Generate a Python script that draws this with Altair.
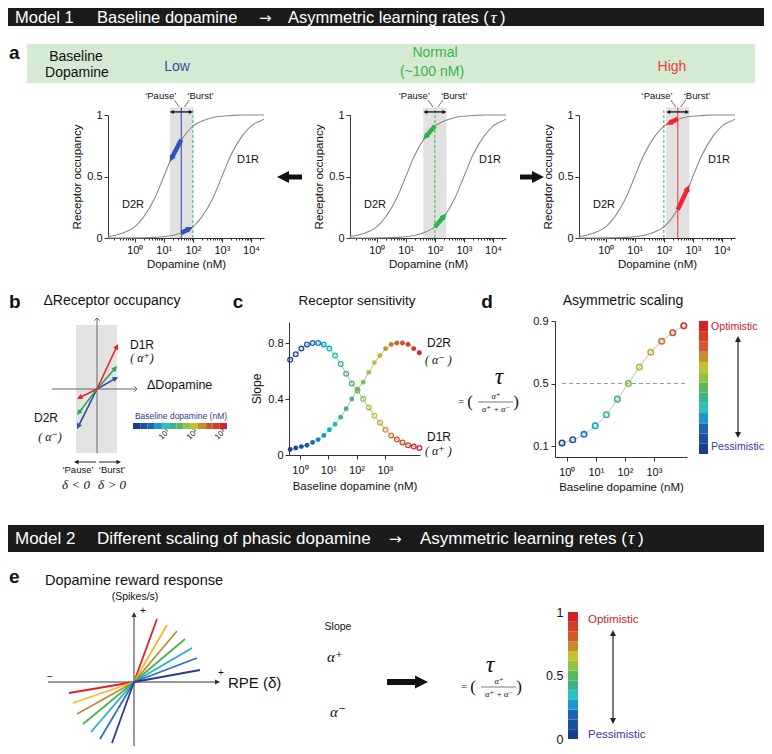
import math
import altair as alt
import pandas as pd

W, H = 756, 738
M = 8


def cx(v):
    return v - M


def cy(v):
    return v - M


SANS = "Liberation Sans, Arial, Helvetica, sans-serif"
ARROWFONT = "DejaVu Sans, Liberation Sans, sans-serif"
SERIF = "Liberation Serif, DejaVu Serif, Times New Roman, serif"
HEAD = "M0,0L-0.5,1L0.5,1Z"
CHEV_UP = "M-1,1L0,0L1,1"
CHEV_RIGHT = "M-1,-1L0,0L-1,1"
JET13 = ["#1c3d8f", "#1f4fa0", "#1f64b0", "#1b96cf", "#2bbfc0", "#3cb487", "#5ab75c",
         "#8dc443", "#c4c22e", "#c98b2d", "#cf5c28", "#d23f26", "#d62027"]
E7 = ["#e41e26", "#f8b62e", "#b68e3a", "#4db04f", "#1fb4c4", "#2874c4", "#2b3b93"]

# ---------------- data ----------------
dopamine_nM = [0.12, 0.2, 0.5, 1, 2, 5, 10, 20, 50, 100, 200, 500, 1000, 2000, 5000, 10000, 20000, 28000]
d2r_occupancy = [0.012, 0.02, 0.05, 0.09, 0.17, 0.33, 0.50, 0.67, 0.83, 0.91, 0.95, 0.98, 0.99, 0.995, 1.0, 1.0, 1.0, 1.0]
d1r_occupancy = [0.0, 0.0, 0.0, 0.001, 0.002, 0.005, 0.01, 0.02, 0.05, 0.09, 0.17, 0.33, 0.50, 0.67, 0.83, 0.91, 0.95, 0.966]

baseline_levels = ["Low", "Normal", "High"]
baseline_nM = [40, 100, 300]
normal_nM = 100
band_low_nM = [16, 40, 120]
band_high_nM = [100, 250, 750]
d2r_arrow_from = [0.80, 0.91, 0.97]
d2r_arrow_to = [0.62, 0.80, 0.92]
d1r_arrow_from = [0.04, 0.09, 0.23]
d1r_arrow_to = [0.09, 0.20, 0.43]

b_burst_dx = [21, 20, 21]
b_burst_dy = [12, 23, 45]
b_pause_dx = [-20, -20, -20]
b_pause_dy = [-40, -26, -10]
colorbar_ticks_nM = [10, 100, 1000]

c_baseline_nM = [0.45, 0.71, 1.12, 1.77, 2.8, 4.4, 7.0, 11, 17.4, 27.5, 43, 68, 108, 171, 270,
                 427, 675, 1065, 1685, 2660, 4200, 6640, 10500, 16600]
c_open = [0.68, 0.72, 0.76, 0.79, 0.80, 0.80, 0.79, 0.76, 0.71, 0.65, 0.58, 0.51, 0.46, 0.40,
          0.34, 0.28, 0.23, 0.18, 0.14, 0.11, 0.09, 0.07, 0.06, 0.05]
c_filled = [0.04, 0.05, 0.06, 0.07, 0.09, 0.11, 0.14, 0.18, 0.22, 0.27, 0.33, 0.40, 0.47, 0.52,
            0.59, 0.66, 0.71, 0.76, 0.79, 0.80, 0.80, 0.79, 0.76, 0.73]

d_baseline_nM = [0.68, 1.6, 3.9, 9.5, 23, 55, 132, 316, 776, 1860, 4470, 10700]
d_tau = [0.12, 0.14, 0.175, 0.23, 0.30, 0.40, 0.50, 0.605, 0.70, 0.77, 0.825, 0.87]

e_plus_dx = [23, 33, 43, 51, 58, 63, 66]
e_plus_dy = [63, 57, 51, 43, 34, 24, 12]
e_minus_dx = [-65, -61, -57, -51, -43, -34, -22]
e_minus_dy = [-11, -21, -32, -42, -50, -57, -61]
tau_ticks = [0, 0.5, 1]

SUP = ("'10' + (datum.value < 5 ? '\u2070' : datum.value < 50 ? '\u00b9' : "
       "datum.value < 500 ? '\u00b2' : datum.value < 5000 ? '\u00b3' : '\u2074')")


class Panel:
    def __init__(self, xdom, xrng, ydom, yrng, xlog=False, ylog=False):
        self.xdom, self.ydom = list(xdom), list(ydom)
        self.xr = [cx(v) for v in xrng]
        self.yr = [cy(v) for v in yrng]
        self.xlog, self.ylog = xlog, ylog

    @staticmethod
    def _scale(dom, rng, log):
        if log:
            return alt.Scale(type="log", domain=dom, range=rng, nice=False)
        return alt.Scale(type="linear", domain=dom, range=rng, nice=False, zero=False)

    def X(self, f, axis=None):
        return alt.X(f, type="quantitative", scale=self._scale(self.xdom, self.xr, self.xlog), axis=axis)

    def Y(self, f, axis=None):
        return alt.Y(f, type="quantitative", scale=self._scale(self.ydom, self.yr, self.ylog), axis=axis)

    @staticmethod
    def _t(v, dom, log):
        if log:
            return (math.log10(v) - math.log10(dom[0])) / (math.log10(dom[1]) - math.log10(dom[0]))
        return (v - dom[0]) / (dom[1] - dom[0])

    @staticmethod
    def _inv(t, dom, log):
        if log:
            return 10 ** (math.log10(dom[0]) + t * (math.log10(dom[1]) - math.log10(dom[0])))
        return dom[0] + t * (dom[1] - dom[0])

    def px(self, x, y):
        return (self.xr[0] + self._t(x, self.xdom, self.xlog) * (self.xr[1] - self.xr[0]),
                self.yr[0] + self._t(y, self.ydom, self.ylog) * (self.yr[1] - self.yr[0]))

    def data(self, px, py):
        return (self._inv((px - self.xr[0]) / (self.xr[1] - self.xr[0]), self.xdom, self.xlog),
                self._inv((py - self.yr[0]) / (self.yr[1] - self.yr[0]), self.ydom, self.ylog))


def head_angle(dx, dy):
    return round((math.degrees(math.atan2(dx, -dy)) + 360.0) % 360.0, 2)


def one(**kw):
    return pd.DataFrame({k: [v] for k, v in kw.items()})


PX = lambda f: alt.X(f, type="quantitative", scale=None)
PY = lambda f: alt.Y(f, type="quantitative", scale=None)

layers = []
TEXTS = []


def txt(x, y, s, size=12, color="#111", font=SANS, weight="normal", style="normal",
        align="center", baseline="middle", angle=0):
    TEXTS.append(dict(x=cx(x), y=cy(y), t=s, size=size, color=color, font=font, weight=weight,
                      style=style, align=align, baseline=baseline, angle=angle))


def prect(x1, y1, x2, y2, color):
    layers.append(alt.Chart(one(x=cx(x1), x2=cx(x2), y=cy(y1), y2=cy(y2))).mark_rect(color=color)
                  .encode(x=PX("x"), x2="x2", y=PY("y"), y2="y2"))


def prule(x1, y1, x2, y2, color, width, dash=None):
    kw = dict(color=color, strokeWidth=width)
    if dash:
        kw["strokeDash"] = dash
    layers.append(alt.Chart(one(x=cx(x1), x2=cx(x2), y=cy(y1), y2=cy(y2))).mark_rule(**kw)
                  .encode(x=PX("x"), x2="x2", y=PY("y"), y2="y2"))


def phead(x, y, ang, color, L):
    layers.append(alt.Chart(one(x=x, y=y)).mark_point(shape=HEAD, filled=True, size=4 * L * L,
                  color=color, opacity=1, angle=ang).encode(x=PX("x"), y=PY("y")))


def pix_arrow(x0, y0, x1, y1, color, width, L):
    X0, Y0, X1, Y1 = cx(x0), cy(y0), cx(x1), cy(y1)
    dx, dy = X1 - X0, Y1 - Y0
    n = math.hypot(dx, dy) or 1
    sx, sy = X1 - dx / n * L * 0.7, Y1 - dy / n * L * 0.7
    layers.append(alt.Chart(one(x=X0, y=Y0, x2=sx, y2=sy)).mark_rule(color=color, strokeWidth=width,
                  strokeCap="butt").encode(x=PX("x"), x2="x2", y=PY("y"), y2="y2"))
    phead(X1, Y1, head_angle(dx, dy), color, L)


def panel_arrow(P, x0, y0, x1, y1, color, width, L):
    p0x, p0y = P.px(x0, y0)
    p1x, p1y = P.px(x1, y1)
    dx, dy = p1x - p0x, p1y - p0y
    n = math.hypot(dx, dy) or 1
    ex, ey = P.data(p1x - dx / n * L * 0.7, p1y - dy / n * L * 0.7)
    layers.append(alt.Chart(one(x=x0, y=y0, x2=ex, y2=ey)).mark_rule(color=color, strokeWidth=width,
                  strokeCap="butt").encode(x=P.X("x"), y=P.Y("y"), x2="x2", y2="y2"))
    layers.append(alt.Chart(one(x=x1, y=y1)).mark_point(shape=HEAD, filled=True, size=4 * L * L, color=color,
                  opacity=1, angle=head_angle(dx, dy)).encode(x=P.X("x"), y=P.Y("y")))


def tau_formula(xt, yt, xc, yf):
    txt(xt, yt, "\u03c4", 24, font=SERIF, style="italic")
    txt(xc - 36, yf, "=", 11, font=SERIF)
    txt(xc - 27, yf, "(", 17, font=SERIF)
    txt(xc - 1, yf - 6, "\u03b1\u207a", 8.5, font=SERIF, style="italic")
    prule(xc - 19, yf, xc + 16, yf, "#222", 0.6)
    txt(xc - 1, yf + 6.5, "\u03b1\u207a + \u03b1\u207b", 8.5, font=SERIF, style="italic")
    txt(xc + 19, yf, ")", 17, font=SERIF)


# ---------------- headers ----------------
prect(0, 0, 772, 26, "#1b1b1b")
prect(0, 525, 772, 552, "#1b1b1b")
HY = 17.5
for (x, s) in [(15, "Model 1"), (97, "Baseline dopamine"), (288, "Asymmetric learning rates (")]:
    txt(x, HY, s, 16.5, "white", align="left")
txt(259, HY, "\u2192", 15, "white", font=ARROWFONT, align="left")
txt(490.5, HY, "\u03c4", 17.5, "white", font=SERIF, style="italic", align="left")
txt(500, HY, ")", 16.5, "white", align="left")
for (x, s) in [(15, "Model 2"), (97, "Different scaling of phasic dopamine"),
               (420, "Asymmetric learning retes (")]:
    txt(x, 539, s, 17, "white", align="left")
txt(389, 539, "\u2192", 15, "white", font=ARROWFONT, align="left")
txt(628, 539, "\u03c4", 18, "white", font=SERIF, style="italic", align="left")
txt(638, 539, ")", 17, "white", align="left")

# ---------------- panel a ----------------
prect(27, 44, 755, 83, "#d4ead3")
txt(9, 53, "a", 19, weight="bold", align="left")
txt(76, 57, "Baseline", 14)
txt(77, 73, "Dopamine", 14)
txt(177, 67, "Low", 14, "#3b4ea3")
txt(435, 53, "Normal", 14, "#3cb44a")
txt(432, 72, "(~100 nM)", 14, "#3cb44a")
txt(672, 67, "High", 14, "#ee3b3b")

A_LEFT = [108, 350, 579]
A_COL = ["#3552b8", "#2bb24c", "#f0252d"]
LINE_COL = ["#4a5fc0", "#3cb44b", "#f05050"]
BAND_TOP = 1.06
minor_vals = [b * k for b in [0.1, 1, 10, 100, 1000, 10000] for k in range(2, 10) if 0.12 <= b * k <= 28000]
curve_df = pd.DataFrame({"dop": dopamine_nM, "d2r": d2r_occupancy, "d1r": d1r_occupancy})

for i in range(3):
    left = A_LEFT[i]
    P = Panel([0.12, 28000], [left, left + 156], [0, 1], [238, 115], xlog=True)
    x_axis = alt.Axis(orient="bottom", offset=cy(238) - H, values=[1, 10, 100, 1000, 10000], labelExpr=SUP,
                      title="Dopamine (nM)", tickSize=4, labelPadding=2, titlePadding=3)
    y_axis = alt.Axis(orient="left", offset=-cx(left), values=[0, 0.5, 1], format="~g",
                      title="Receptor occupancy", tickSize=4, labelPadding=2, titlePadding=4)
    m_axis = alt.Axis(orient="bottom", offset=cy(238) - H, values=minor_vals, labels=False, domain=False,
                      tickSize=2, title="")
    band = one(lo=band_low_nM[i], hi=band_high_nM[i], y0=0, y1=BAND_TOP)
    layers.append(alt.Chart(band).mark_rect(color="#e1e1e1")
                  .encode(x=P.X("lo", m_axis), x2="hi", y=P.Y("y0"), y2="y1"))
    layers.append(alt.Chart(one(x=normal_nM, y0=0, y1=BAND_TOP)).mark_rule(color="#3cb44b", strokeWidth=1,
                  strokeDash=[3, 2]).encode(x=P.X("x"), y=P.Y("y0"), y2="y1"))
    if baseline_nM[i] != normal_nM:
        layers.append(alt.Chart(one(x=baseline_nM[i], y0=0, y1=BAND_TOP)).mark_rule(color=LINE_COL[i],
                      strokeWidth=1.2).encode(x=P.X("x"), y=P.Y("y0"), y2="y1"))
    layers.append(alt.Chart(curve_df).mark_line(color="#8a8a8a", strokeWidth=1.1, interpolate="monotone")
                  .encode(x=P.X("dop", x_axis), y=P.Y("d2r", y_axis)))
    layers.append(alt.Chart(curve_df).mark_line(color="#8a8a8a", strokeWidth=1.1, interpolate="monotone")
                  .encode(x=P.X("dop"), y=P.Y("d1r")))
    panel_arrow(P, baseline_nM[i], d2r_arrow_from[i], band_low_nM[i], d2r_arrow_to[i], A_COL[i], 4.5, 6.5)
    panel_arrow(P, baseline_nM[i], d1r_arrow_from[i], band_high_nM[i], d1r_arrow_to[i], A_COL[i], 4.5, 6.5)
    panel_arrow(P, baseline_nM[i], 1.025, band_low_nM[i], 1.025, "#111", 1.3, 4)
    panel_arrow(P, baseline_nM[i], 1.025, band_high_nM[i], 1.025, "#111", 1.3, 4)
    bx = P.px(baseline_nM[i], 0)[0] + M
    txt(bx - 5, 96, "\u2018Pause\u2019", 9.5, align="right")
    txt(bx + 6, 96, "\u2018Burst\u2019", 9.5, align="left")
    prule(bx - 7, 100, bx - 2, 107, "#333", 0.7)
    prule(bx + 8, 100, bx + 3, 107, "#333", 0.7)
    txt(left + 25, 205, "D2R", 11)
    txt(left + 140, 160, "D1R", 11)

pix_arrow(302, 177, 277, 177, "#111", 5, 12)
pix_arrow(520, 177, 544, 177, "#111", 5, 12)

# ---------------- panel b ----------------
B = Panel([-50, 50], [47, 147], [-70, 70], [459, 319])
txt(9, 302, "b", 19, weight="bold", align="left")
txt(112, 301, "\u0394Receptor occupancy", 14)
layers.append(alt.Chart(one(x=-21, x2=20, y=-64, y2=64)).mark_rect(color="#e3e3e3")
              .encode(x=B.X("x"), x2="x2", y=B.Y("y"), y2="y2"))
layers.append(alt.Chart(one(x=0, y=-64, y2=71)).mark_rule(color="#666", strokeWidth=1)
              .encode(x=B.X("x"), y=B.Y("y"), y2="y2"))
layers.append(alt.Chart(one(x=-45, x2=40, y=0)).mark_rule(color="#666", strokeWidth=1)
              .encode(x=B.X("x"), x2="x2", y=B.Y("y")))
layers.append(alt.Chart(one(x=0, y=71)).mark_point(shape=CHEV_UP, filled=False, size=30, color="#666",
              strokeWidth=1, opacity=1).encode(x=B.X("x"), y=B.Y("y")))
layers.append(alt.Chart(one(x=40, y=0)).mark_point(shape=CHEV_RIGHT, filled=False, size=30, color="#666",
              strokeWidth=1, opacity=1).encode(x=B.X("x"), y=B.Y("y")))
B_COL = ["#2e4aa6", "#2ea64b", "#e8232b"]
for i in range(3):
    panel_arrow(B, 0, 0, b_burst_dx[i], b_burst_dy[i], B_COL[i], 1.6, 5.5)
    panel_arrow(B, 0, 0, b_pause_dx[i], b_pause_dy[i], B_COL[i], 1.6, 5.5)
txt(142, 345, "D1R", 12)
txt(142, 358, "( \u03b1\u207a)", 12, font=SERIF, style="italic")
txt(147, 385, "\u0394Dopamine", 12.5, align="left")
txt(46, 418, "D2R", 12)
txt(50, 437, "( \u03b1\u207b)", 12, font=SERIF, style="italic")
txt(181, 416, "Baseline dopamine (nM)", 8.5, "#2e3a87")
cb_df = pd.DataFrame({"i": list(range(13)), "i1": list(range(1, 14))})
CBB = Panel([0, 13], [133, 227], [0, 1], [429, 423])
layers.append(alt.Chart(cb_df).mark_rect().encode(
    x=CBB.X("i"), x2="i1", y=alt.value(cy(423)), y2=alt.value(cy(429)),
    color=alt.Color("i:O", scale=alt.Scale(domain=list(range(13)), range=JET13), legend=None)))
CBT = Panel([0.56, 1280], [133, 227], [0, 1], [429, 423], xlog=True)
layers.append(alt.Chart(pd.DataFrame({"v": colorbar_ticks_nM})).mark_point(opacity=0).encode(
    x=CBT.X("v", alt.Axis(orient="bottom", offset=cy(429) - H, values=colorbar_ticks_nM, labelExpr=SUP,
                           labelAngle=-45, labelAlign="right", labelBaseline="middle", labelFontSize=8,
                           labelPadding=1, tickSize=0, domain=False, title=""))))
pix_arrow(96, 462, 74, 462, "#222", 1, 4.5)
pix_arrow(99, 462, 121, 462, "#222", 1, 4.5)
txt(78, 470, "\u2018Pause\u2019", 9.5)
txt(112, 470, "\u2018Burst\u2019", 9.5)
txt(76, 485, "\u03b4 < 0", 13, font=SERIF, style="italic")
txt(112, 485, "\u03b4 > 0", 13, font=SERIF, style="italic")

# ---------------- panel c ----------------
C = Panel([0.41, 17500], [289, 420], [0, 0.95], [455, 322], xlog=True)
JET_SCALE = alt.Scale(domain=[round(-0.35 + k * 4.55 / 12, 4) for k in range(13)], range=JET13)
c_df = pd.DataFrame({"b": c_baseline_nM, "open": c_open, "filled": c_filled})
txt(238, 302, "c", 19, weight="bold")
txt(357, 301, "Receptor sensitivity", 13.5)
c_x_axis = alt.Axis(orient="bottom", offset=cy(455) - H, values=[1, 10, 100, 1000], labelExpr=SUP,
                    title="Baseline dopamine (nM)", tickSize=4, labelPadding=5, titlePadding=5)
c_y_axis = alt.Axis(orient="left", offset=-cx(289), values=[0, 0.4, 0.8], format="~g", title="Slope",
                    tickSize=4, labelPadding=2, titlePadding=4, titleFontSize=12)
layers.append(alt.Chart(c_df).mark_line(color="#b5b5b5", strokeWidth=1)
              .encode(x=C.X("b", c_x_axis), y=C.Y("open", c_y_axis)))
layers.append(alt.Chart(c_df).mark_line(color="#b5b5b5", strokeWidth=1).encode(x=C.X("b"), y=C.Y("filled")))
layers.append(alt.Chart(c_df).transform_calculate(lg="log(datum.b)/LN10").mark_point(
    filled=False, size=22, strokeWidth=1.3, opacity=1).encode(
    x=C.X("b"), y=C.Y("open"), color=alt.Color("lg:Q", scale=JET_SCALE, legend=None)))
layers.append(alt.Chart(c_df).transform_calculate(lg="log(datum.b)/LN10").mark_circle(
    size=24, opacity=1).encode(
    x=C.X("b"), y=C.Y("filled"), color=alt.Color("lg:Q", scale=JET_SCALE, legend=None)))
txt(427, 343, "D2R", 12, align="left")
txt(425, 360, "( \u03b1\u207b )", 12, font=SERIF, style="italic", align="left")
txt(427, 437, "D1R", 12, align="left")
txt(425, 451, "( \u03b1\u207a )", 12, font=SERIF, style="italic", align="left")

# ---------------- panel d ----------------
D = Panel([0.39, 13800], [555, 687], [0.03, 0.9], [457, 321], xlog=True)
d_df = pd.DataFrame({"b": d_baseline_nM, "tau": d_tau})
txt(487, 302, "d", 19, weight="bold")
txt(623, 301, "Asymmetric scaling", 14)
d_x_axis = alt.Axis(orient="bottom", offset=cy(457) - H, values=[1, 10, 100, 1000], labelExpr=SUP,
                    title="Baseline dopamine (nM)", tickSize=4, labelPadding=5, titlePadding=4)
d_y_axis = alt.Axis(orient="left", offset=-cx(555), values=[0.1, 0.5, 0.9], format="~g", title="",
                    tickSize=4, labelPadding=3)
layers.append(alt.Chart(one(x=d_baseline_nM[0], x2=13800, y=0.5)).mark_rule(
    color="#9a9a9a", strokeWidth=1, strokeDash=[4, 3]).encode(x=D.X("x"), x2="x2", y=D.Y("y")))
layers.append(alt.Chart(d_df).mark_line(color="#bdbdbd", strokeWidth=1, interpolate="monotone")
              .encode(x=D.X("b", d_x_axis), y=D.Y("tau", d_y_axis)))
layers.append(alt.Chart(d_df).transform_calculate(lg="log(datum.b)/LN10").mark_point(
    filled=False, size=30, strokeWidth=1.6, opacity=1).encode(
    x=D.X("b"), y=D.Y("tau"), color=alt.Color("lg:Q", scale=JET_SCALE, legend=None)))
tau_formula(499, 377, 497, 402)
DCB = Panel([0, 1], [699, 708], [0, 13], [454, 321])
layers.append(alt.Chart(cb_df).mark_rect().encode(
    x=alt.value(cx(699)), x2=alt.value(cx(708)), y=DCB.Y("i"), y2="i1",
    color=alt.Color("i:O", scale=alt.Scale(domain=list(range(13)), range=JET13), legend=None)))
txt(711, 327, "Optimistic", 10.6, "#c8202a", align="left")
txt(711, 447, "Pessimistic", 10.6, "#3b3b9c", align="left")
pix_arrow(738, 387, 738, 336, "#222", 1.2, 6)
pix_arrow(738, 387, 738, 438, "#222", 1.2, 6)

# ---------------- panel e ----------------
E = Panel([-90, 90], [44, 224], [-75, 75], [757, 607])
txt(9, 577, "e", 19, weight="bold", align="left")
txt(134, 581, "Dopamine reward response", 14.5)
txt(135, 597, "(Spikes/s)", 10.5)
layers.append(alt.Chart(one(x=0, y=-75, y2=66)).mark_rule(color="#333", strokeWidth=1)
              .encode(x=E.X("x"), y=E.Y("y"), y2="y2"))
layers.append(alt.Chart(one(x=-86, x2=82, y=0)).mark_rule(color="#333", strokeWidth=1)
              .encode(x=E.X("x"), x2="x2", y=E.Y("y")))
layers.append(alt.Chart(one(x=0, y=70)).mark_point(shape=HEAD, filled=True, size=100, color="#333",
              opacity=1, angle=0).encode(x=E.X("x"), y=E.Y("y")))
layers.append(alt.Chart(one(x=86, y=0)).mark_point(shape=HEAD, filled=True, size=100, color="#333",
              opacity=1, angle=90).encode(x=E.X("x"), y=E.Y("y")))
fan = pd.DataFrame({"k": list(range(7)) * 2, "x": [0] * 14, "y": [0] * 14,
                    "x2": e_plus_dx + e_minus_dx, "y2": e_plus_dy + e_minus_dy})
layers.append(alt.Chart(fan).mark_rule(strokeWidth=1.8).encode(
    x=E.X("x"), y=E.Y("y"), x2="x2", y2="y2",
    color=alt.Color("k:O", scale=alt.Scale(domain=list(range(7)), range=E7), legend=None)))
txt(143, 611, "+", 10)
txt(50, 677, "\u2212", 10)
txt(221, 673, "+", 10)
txt(228, 683, "RPE (\u03b4)", 15, align="left")
txt(338, 627, "Slope", 10.5)
txt(335, 657, "\u03b1\u207a", 15, font=SERIF, style="italic")
txt(338, 712, "\u03b1\u207b", 15, font=SERIF, style="italic")
pix_arrow(387, 682, 428, 682, "#111", 6, 13)
tau_formula(490, 665, 500, 687)
ECB = Panel([0, 1], [568, 578], [0, 13], [739, 612])
layers.append(alt.Chart(cb_df).mark_rect().encode(
    x=alt.value(cx(568)), x2=alt.value(cx(578)), y=ECB.Y("i"), y2="i1",
    color=alt.Color("i:O", scale=alt.Scale(domain=list(range(13)), range=JET13), legend=None)))
ECT = Panel([0, 1], [568, 578], [0, 1], [739, 612])
layers.append(alt.Chart(pd.DataFrame({"v": tau_ticks})).mark_point(opacity=0).encode(
    y=ECT.Y("v", alt.Axis(orient="left", offset=-cx(568), values=tau_ticks, format="~g", ticks=False,
                          domain=False, labelPadding=5, labelFontSize=12.5, title=""))))
txt(588, 620, "Optimistic", 11.5, "#c8202a", align="left")
txt(588, 735, "Pessimistic", 11.5, "#3b3b9c", align="left")
pix_arrow(613, 678, 613, 630, "#222", 1.2, 6)
pix_arrow(613, 678, 613, 724, "#222", 1.2, 6)

# ---------------- texts ----------------
tdf = pd.DataFrame(TEXTS)
keys = ["size", "color", "font", "weight", "style", "align", "baseline", "angle"]
for key, g in tdf.groupby(keys, sort=False):
    kw = dict(zip(keys, key))
    layers.append(alt.Chart(g[["x", "y", "t"]].reset_index(drop=True)).mark_text(
        fontSize=float(kw["size"]), color=kw["color"], font=kw["font"], fontWeight=kw["weight"],
        fontStyle=kw["style"], align=kw["align"], baseline=kw["baseline"], angle=float(kw["angle"])
    ).encode(x=PX("x"), y=PY("y"), text="t:N"))

chart = alt.layer(*layers).resolve_scale(
    x="independent", y="independent", color="independent"
).properties(
    width=W, height=H, autosize=alt.AutoSizeParams(type="none"), padding=0, background="white"
).configure_view(strokeWidth=0).configure_axis(
    grid=False, labelFont=SANS, titleFont=SANS, labelFontSize=11, titleFontSize=11.5,
    titleFontWeight="normal", labelColor="#111", titleColor="#111", domainColor="#333", tickColor="#333"
)

chart.save("out.html", embed_options={"renderer": "svg", "actions": False})
